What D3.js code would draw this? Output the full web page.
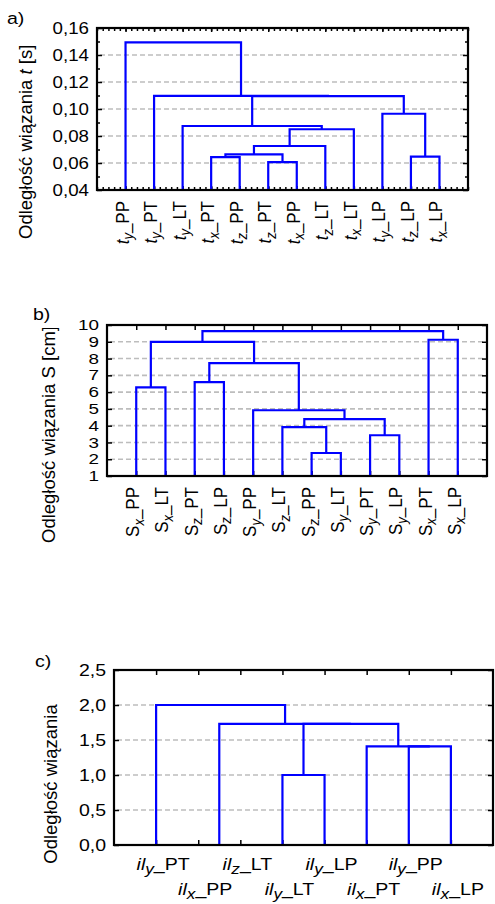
<!DOCTYPE html>
<html>
<head>
<meta charset="utf-8">
<script src="https://cdn.jsdelivr.net/npm/d3@7/dist/d3.min.js"></script>
<style>
  body { margin: 0; background: #fff; }
  svg { display: block; font-family: "Liberation Sans", Arial, sans-serif; }
  .grid line { stroke: #bdbdbd; stroke-width: 1.6; stroke-dasharray: 5 3; }
  .axis path { display: none; }
  .axis line { stroke: #000; stroke-width: 1.5; }
  .axis text { fill: #000; }
  .link { fill: none; stroke: #0000ff; stroke-width: 2.2; }
</style>
</head>
<body>
<svg id="chart" width="495" height="904"></svg>
<script>
// ---- panel a) : t ----
const leavesA = ["y_PP", "y_PT", "y_LT", "x_PT", "z_PP", "z_PT", "x_PP", "z_LT", "x_LT", "y_LP", "z_LP", "x_LP"];
// [child1, child2, height]; children < 12 are leaves, others are earlier merges
const linkA = [
    [5, 6, 0.0607],
    [3, 4, 0.0644],
    [13, 12, 0.0664],
    [14, 7, 0.0726],
    [15, 8, 0.0850],
    [2, 16, 0.0874],
    [10, 11, 0.0647],
    [9, 18, 0.0965],
    [17, 19, 0.1095],
    [1, 20, 0.1097],
    [0, 21, 0.1494]
];
const ticksA = [0.04, 0.06, 0.08, 0.10, 0.12, 0.14, 0.16];

// ---- panel b) : S ----
const leavesB = ["x_PP", "x_LT", "z_PT", "z_LP", "y_PP", "z_LT", "z_PP", "y_LT", "y_PT", "y_LP", "x_PT", "x_LP"];
const linkB = [
    [6, 7, 2.37],
    [8, 9, 3.43],
    [5, 12, 3.91],
    [14, 13, 4.39],
    [4, 15, 4.92],
    [0, 1, 6.28],
    [2, 3, 6.60],
    [18, 16, 7.73],
    [17, 19, 9.00],
    [10, 11, 9.12],
    [20, 21, 9.63]
];
const ticksB = [1, 2, 3, 4, 5, 6, 7, 8, 9, 10];

// ---- panel c) : il ----
const leavesC = ["y_PT", "x_PP", "z_LT", "y_LT", "y_LP", "x_PT", "y_PP", "x_LP"];
const linkC = [
    [1, 2, 0.0],
    [3, 4, 1.0],
    [6, 7, 1.41],
    [5, 10, 1.41],
    [9, 11, 1.73],
    [8, 12, 1.73],
    [0, 13, 2.0]
];
const ticksC = [0, 0.5, 1.0, 1.5, 2.0, 2.5];

const pl = d3.formatLocale({decimal: ",", thousands: " ", grouping: [3], currency: ["", ""]});

const svg = d3.select("#chart");

function drawPanel(cfg) {
    const x0 = cfg.box[0], y0 = cfg.box[1], x1 = cfg.box[2], y1 = cfg.box[3];
    const n = cfg.leaves.length;
    const g = svg.append("g");

    const x = d3.scalePoint().domain(d3.range(n)).range([x0, x1]).padding(1);
    const y = d3.scaleLinear().domain(d3.extent(cfg.ticks)).range([y1, y0]).clamp(true);

    // gridlines
    g.append("g").attr("class", "grid")
        .selectAll("line")
        .data(cfg.ticks.slice(1, -1))
        .join("line")
        .attr("x1", x0 + 3).attr("x2", x1 - 3)
        .attr("y1", d => y(d)).attr("y2", d => y(d));

    // axes with inward ticks
    const pad = 8, sx = cfg.tickStretch;
    g.append("g").attr("class", "axis")
        .attr("transform", `translate(${x0},0)`)
        .call(d3.axisLeft(y).tickValues(cfg.ticks).tickSize(-5).tickPadding(pad).tickFormat(cfg.fmt))
        .call(a => a.selectAll("text")
            .attr("font-size", cfg.tickFont)
            .attr("x", -pad / sx)
            .attr("transform", `scale(${sx},1)`));
    g.append("g").attr("class", "axis")
        .attr("transform", `translate(${x1},0)`)
        .call(d3.axisRight(y).tickValues(cfg.ticks).tickSize(-5).tickFormat(""));
    g.append("g").attr("class", "axis")
        .attr("transform", `translate(0,${y0})`)
        .call(d3.axisBottom(x).tickSize(cfg.minorX ? 4 : 5).tickFormat(""));
    g.append("g").attr("class", "axis")
        .attr("transform", `translate(0,${y1})`)
        .call(d3.axisTop(x).tickSize(cfg.minorX ? 4 : 5).tickFormat(""));

    if (cfg.minorX) {
        const xm = d3.scaleLinear().domain([0, n + 1]).range([x0, x1]);
        const mt = d3.range(0, (n + 1) * 5 + 1).map(i => i / 5);
        g.append("g").attr("class", "axis")
            .attr("transform", `translate(0,${y0})`)
            .call(d3.axisBottom(xm).tickValues(mt).tickSize(3).tickFormat(""));
        g.append("g").attr("class", "axis")
            .attr("transform", `translate(0,${y1})`)
            .call(d3.axisTop(xm).tickValues(mt).tickSize(3).tickFormat(""));
    }
    if (cfg.minorY) {
        g.append("g").attr("class", "axis")
            .attr("transform", `translate(${x0},0)`)
            .call(d3.axisLeft(y).tickValues(cfg.minorY).tickSize(-3).tickFormat(""));
        g.append("g").attr("class", "axis")
            .attr("transform", `translate(${x1},0)`)
            .call(d3.axisRight(y).tickValues(cfg.minorY).tickSize(-3).tickFormat(""));
    }

    // dendrogram: compute node positions from linkage
    const pos = cfg.leaves.map((d, i) => ({x: x(i), h: 0}));
    const paths = [];
    cfg.links.forEach(m => {
        const a = pos[m[0]], b = pos[m[1]];
        paths.push(`M${a.x},${y(a.h)}V${y(m[2])}H${b.x}V${y(b.h)}`);
        pos.push({x: (a.x + b.x) / 2, h: m[2]});
    });
    g.append("g").selectAll("path")
        .data(paths)
        .join("path")
        .attr("class", "link")
        .attr("d", d => d);

    // frame
    g.append("rect")
        .attr("x", x0).attr("y", y0)
        .attr("width", x1 - x0).attr("height", y1 - y0)
        .attr("fill", "none").attr("stroke", "#000").attr("stroke-width", 2.2);

    // panel letter
    g.append("text")
        .attr("transform", `translate(${cfg.letter[0]},${cfg.letter[1]}) scale(1.15,1)`)
        .attr("font-size", 17)
        .text(cfg.letterText);

    return {g, x, y};
}

function addLeafLabel(sel, sym, symItalic, sub, rest, subSize) {
    sel.append("tspan").attr("font-style", symItalic ? "italic" : null).text(sym);
    sel.append("tspan").attr("font-style", "italic").attr("font-size", subSize).attr("dy", 4).text(sub);
    sel.append("tspan").attr("dy", -4).text(rest);
}

// ---- panel a ----
const pa = drawPanel({
    box: [97, 28, 468, 190],
    leaves: leavesA, links: linkA, ticks: ticksA,
    minorY: [0.05, 0.07, 0.09, 0.11, 0.13, 0.15],
    minorX: true,
    fmt: pl.format(".2f"),
    tickFont: 16, tickStretch: 1.17,
    letter: [7, 24], letterText: "a)"
});
pa.g.append("g").selectAll("text")
    .data(leavesA)
    .join("text")
    .attr("transform", (d, i) => `translate(${pa.x(i) + 3},201) rotate(-90) scale(1,1.1)`)
    .attr("text-anchor", "end")
    .attr("font-size", 17)
    .each(function (d) {
        const p = d.split("_");
        addLeafLabel(d3.select(this), "t", true, p[0], "_" + p[1], 13);
    });
const ylA = svg.append("text")
    .attr("transform", "translate(32,239) rotate(-90)")
    .attr("font-size", 18.5);
ylA.append("tspan").text("Odległość wiązania ");
ylA.append("tspan").attr("font-style", "italic").text("t");
ylA.append("tspan").text(" [s]");

// ---- panel b ----
const pb = drawPanel({
    box: [107, 325, 487, 476],
    leaves: leavesB, links: linkB, ticks: ticksB,
    minorX: false,
    fmt: d3.format("d"),
    tickFont: 14.5, tickStretch: 1.3,
    letter: [33, 320], letterText: "b)"
});
pb.g.append("g").selectAll("text")
    .data(leavesB)
    .join("text")
    .attr("transform", (d, i) => `translate(${pb.x(i) + 3},487) rotate(-90) scale(1,1.1)`)
    .attr("text-anchor", "end")
    .attr("font-size", 17)
    .each(function (d) {
        const p = d.split("_");
        addLeafLabel(d3.select(this), "S", false, p[0], "_" + p[1], 13);
    });
svg.append("clipPath").attr("id", "clipB")
    .append("rect").attr("x", 0).attr("y", 328).attr("width", 100).attr("height", 400);
const ylB = svg.append("g")
    .attr("clip-path", "url(#clipB)")
    .append("text")
    .attr("transform", "translate(55,543) rotate(-90)")
    .attr("font-size", 18.5);
ylB.append("tspan").text("Odległość wiązania ");
ylB.append("tspan").text("S");
ylB.append("tspan").text(" [cm]");

// ---- panel c ----
const pc = drawPanel({
    box: [114, 670, 493, 845],
    leaves: leavesC, links: linkC, ticks: ticksC,
    minorX: false,
    fmt: pl.format(".1f"),
    tickFont: 16, tickStretch: 1.22,
    letter: [35, 667], letterText: "c)"
});
pc.g.append("g").selectAll("text")
    .data(leavesC)
    .join("text")
    .attr("transform", (d, i) => `translate(${pc.x(i) + 7},${i % 2 === 0 ? 870 : 895}) scale(1.15,1)`)
    .attr("text-anchor", "middle")
    .attr("font-size", 17)
    .each(function (d) {
        const p = d.split("_");
        addLeafLabel(d3.select(this), "il", true, p[0], "_" + p[1], 15);
    });
svg.append("text")
    .attr("transform", "translate(57,784) rotate(-90)")
    .attr("text-anchor", "middle")
    .attr("font-size", 18.5)
    .text("Odległość wiązania");
</script>
</body>
</html>
